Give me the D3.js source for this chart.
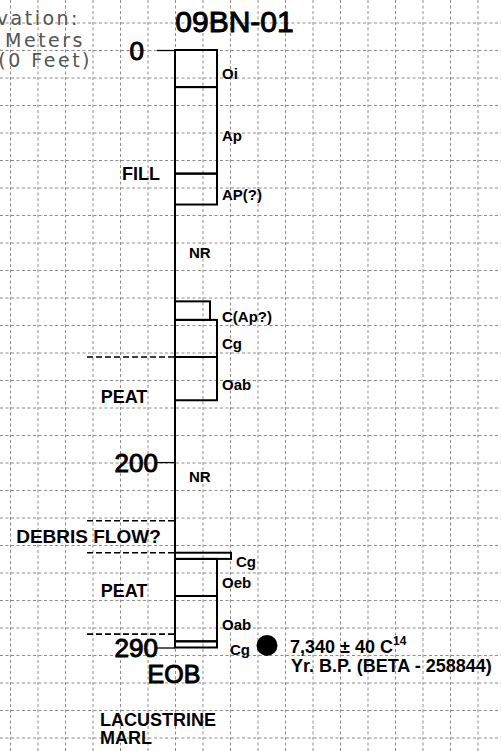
<!DOCTYPE html>
<html lang="en">
<head>
<meta charset="UTF-8">
<title>09BN-01</title>
<script src="https://cdn.jsdelivr.net/npm/d3@7"></script>
<style>
  body { margin: 0; background: #fff; }
  svg { display: block; }
  text { font-family: "Liberation Sans", Arial, Helvetica, sans-serif; }
</style>
</head>
<body>
<div id="log"></div>
<script>
// core id
var coreName = "09BN-01";

// horizons, depth in cm
var horizons = ["Oi", "Ap", "AP(?)", "NR", "C(Ap?)", "Cg", "Oab", "NR", "Cg", "Oeb", "Oab", "Cg"];
var tops     = [0, 18, 60, 75, 122, 131, 149, 170, 244, 247, 265, 287];
var bottoms  = [18, 60, 75, 122, 131, 149, 170, 244, 247, 265, 287, 290];
var texture  = [6, 6, 6, 0, 5, 6, 6, 0, 8, 6, 6, 6];   // 0 = no recovery

var depthTicks = [0, 200, 290];
var eob = 290;

// facies
var faciesNames  = ["FILL", "PEAT", "DEBRIS FLOW?", "PEAT"];
var faciesDepths = [60, 168, 236, 262.5];
var contacts     = [149, 228.5, 244, 283.5];
var baseUnit     = ["LACUSTRINE", "MARL"];

// radiocarbon sample
var sampleDepth = 289;
var sampleAge = "7,340";
var sampleErr = "40";
var sampleLab = "BETA - 258844";

var w = 501, h = 751;
var colX = 175;

var svg = d3.select("#log").append("svg")
    .attr("width", w)
    .attr("height", h);

svg.append("rect")
    .attr("width", w)
    .attr("height", h)
    .attr("fill", "#ffffff");

// background grid
var grid = svg.append("g")
    .attr("stroke", "#8c8c8c")
    .attr("stroke-width", 1)
    .attr("stroke-dasharray", "3,2.5");

grid.selectAll(".gx")
    .data(d3.range(-1, 19))
    .enter()
    .append("line")
    .attr("x1", function(k) { return 10.5 + k*27.5; })
    .attr("x2", function(k) { return 10.5 + k*27.5; })
    .attr("y1", 0)
    .attr("y2", h);

grid.selectAll(".gy")
    .data(d3.range(-1, 28))
    .enter()
    .append("line")
    .attr("y1", function(k) { return 23 + k*27.5; })
    .attr("y2", function(k) { return 23 + k*27.5; })
    .attr("x1", 0)
    .attr("x2", w);

var yScale = d3.scaleLinear()
    .domain([0, 290])
    .range([50, 647.5]);

var xTex = d3.scaleLinear()
    .domain([0, 8])
    .range([colX, colX + 56]);

// elevation note (cut by left edge)
var elev = svg.append("g")
    .attr("fill", "#555")
    .attr("font-size", "19px")
    .attr("text-anchor", "end")
    .style("letter-spacing", "2.5px");

elev.append("text").attr("x", 80).attr("y", 25)
    .style("font-family", "'DejaVu Sans', sans-serif").text("Elevation:");
elev.append("text").attr("x", 85).attr("y", 47)
    .style("font-family", "'DejaVu Sans', sans-serif").text("Meters");
elev.append("text").attr("x", 92).attr("y", 67)
    .style("font-family", "'DejaVu Sans', sans-serif").text("(0 Feet)");

// title
svg.append("text")
    .attr("x", 234.5)
    .attr("y", 32)
    .attr("text-anchor", "middle")
    .attr("font-size", "30px")
    .attr("stroke", "#000")
    .attr("stroke-width", 1)
    .text(coreName);

// depth axis
var axis = svg.append("g")
    .attr("transform", "translate(" + colX + ",0)")
    .call(d3.axisLeft(yScale).tickValues(depthTicks).tickSize(18).tickPadding(0));

axis.select(".domain").remove();
axis.selectAll(".tick line")
    .attr("stroke", "#000")
    .attr("stroke-width", 1.3);
axis.selectAll(".tick text")
    .attr("font-size", "26px")
    .attr("font-family", "Liberation Sans, Arial, sans-serif")
    .attr("fill", "#000")
    .attr("stroke", "#000")
    .attr("stroke-width", 1)
    .attr("dy", "0.36em")
    .attr("x", function(d) { return d === 0 ? -31 : -17; });

// main column line
svg.append("line")
    .attr("x1", colX).attr("x2", colX)
    .attr("y1", yScale(0)).attr("y2", yScale(eob))
    .attr("stroke", "#000")
    .attr("stroke-width", 2);

var rows = horizons.map(function(name, i) {
    return { name: name, top: tops[i], bottom: bottoms[i], tex: texture[i] };
});

svg.selectAll(".hz")
    .data(rows.filter(function(d) { return d.tex > 0; }))
    .enter()
    .append("rect")
    .attr("class", "hz")
    .attr("x", colX)
    .attr("y", function(d) { return yScale(d.top); })
    .attr("width", function(d) { return xTex(d.tex) - colX; })
    .attr("height", function(d) { return yScale(d.bottom) - yScale(d.top); })
    .attr("fill", "none")
    .attr("stroke", "#000")
    .attr("stroke-width", 2);

svg.selectAll(".hz-label")
    .data(rows)
    .enter()
    .append("text")
    .attr("class", "hz-label")
    .attr("x", function(d, i) {
        if (d.tex === 0) return colX + 14;
        if (i === rows.length - 1) return xTex(d.tex) + 13;
        return xTex(Math.max(d.tex, 6)) + 5;
    })
    .attr("y", function(d) {
        var mid = (yScale(d.top) + yScale(d.bottom)) / 2;
        return d.tex > 0 ? mid + 5.5 : mid;
    })
    .attr("dy", "0.36em")
    .attr("font-size", "15px")
    .attr("font-weight", "bold")
    .text(function(d) { return d.name; });

// facies contacts
svg.selectAll(".contact")
    .data(contacts)
    .enter()
    .append("line")
    .attr("x1", 87).attr("x2", colX)
    .attr("y1", function(d) { return yScale(d); })
    .attr("y2", function(d) { return yScale(d); })
    .attr("stroke", "#000")
    .attr("stroke-width", 1.6)
    .attr("stroke-dasharray", "6,3");

var faciesX = [141, 124, 88.5, 124];
svg.selectAll(".facies")
    .data(faciesNames)
    .enter()
    .append("text")
    .attr("x", function(d, i) { return faciesX[i]; })
    .attr("y", function(d, i) { return yScale(faciesDepths[i]); })
    .attr("dy", "0.36em")
    .attr("text-anchor", "middle")
    .attr("font-size", function(d, i) { return i === 2 ? "19px" : "18px"; })
    .attr("font-weight", "bold")
    .text(function(d) { return d; });

// end of boring
svg.append("text")
    .attr("x", 174)
    .attr("y", yScale(eob) + 35.5)
    .attr("text-anchor", "middle")
    .attr("font-size", "25px")
    .attr("stroke", "#000")
    .attr("stroke-width", 1)
    .text("EOB");

svg.selectAll(".base")
    .data(baseUnit)
    .enter()
    .append("text")
    .attr("x", 100)
    .attr("y", function(d, i) { return yScale(eob) + 78.5 + i*17.5; })
    .attr("font-size", "18px")
    .attr("font-weight", "bold")
    .text(function(d) { return d; });

// radiocarbon date
var sy = yScale(sampleDepth);
svg.append("circle")
    .attr("cx", 267)
    .attr("cy", sy)
    .attr("r", 10.5)
    .attr("fill", "#000");

var age = svg.append("text")
    .attr("x", 290)
    .attr("y", sy + 8)
    .attr("font-size", "18px")
    .attr("font-weight", "bold");
age.append("tspan").text(sampleAge + " \u00b1 " + sampleErr + " C");
age.append("tspan")
    .attr("font-size", "12px")
    .attr("dy", "-8")
    .text("14");

svg.append("text")
    .attr("x", 291)
    .attr("y", sy + 27)
    .attr("font-size", "18px")
    .attr("font-weight", "bold")
    .text("Yr. B.P. (" + sampleLab + ")");
</script>
</body>
</html>
